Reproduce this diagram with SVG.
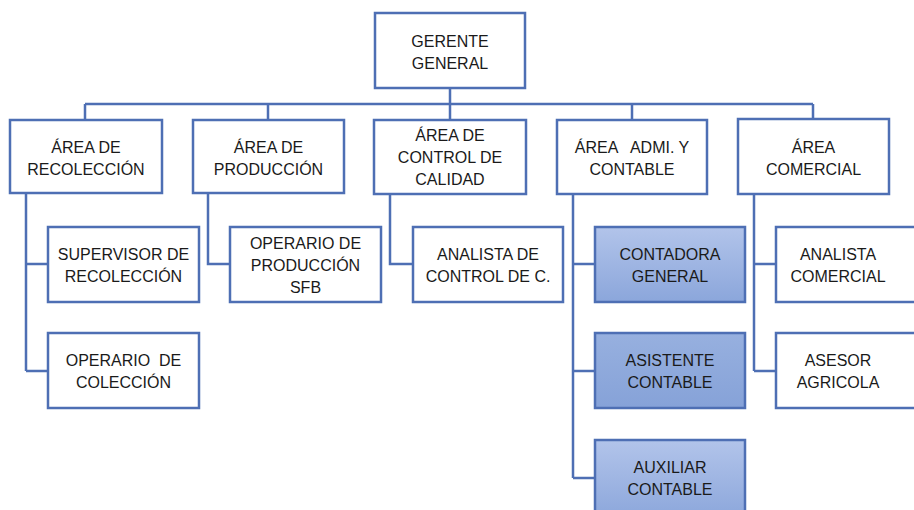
<svg xmlns="http://www.w3.org/2000/svg" width="914" height="510" viewBox="0 0 914 510">
<style>
.box{fill:#ffffff;stroke:#4e6fb4;stroke-width:2.5}
.blue1{fill:url(#g1);stroke:#4e6fb4;stroke-width:2.5}
.blue2{fill:url(#g2);stroke:#4e6fb4;stroke-width:2.5}
.con{fill:none;stroke:#4e6fb4;stroke-width:2.5}
text{font-family:"Liberation Sans",Arial,sans-serif;font-size:16px;fill:#1a1a1a;text-anchor:middle}
</style>
<defs>
<linearGradient id="g1" x1="0" y1="0" x2="0" y2="1">
<stop offset="0" stop-color="#b2c4ea"/>
<stop offset="1" stop-color="#8ba6db"/>
</linearGradient>
<linearGradient id="g2" x1="0" y1="0" x2="0" y2="1">
<stop offset="0" stop-color="#97b0df"/>
<stop offset="1" stop-color="#86a2d8"/>
</linearGradient>
</defs>
<g id="connectors">
<path class="con" d="M450 88V104M85 104H813M85 104V120M268 104V120M450 104V120M632 104V120M813 104V120"/>
<path class="con" d="M26 193V371M26 264H48M26 371H48"/>
<path class="con" d="M208 193V264H230"/>
<path class="con" d="M390 194V264H413"/>
<path class="con" d="M573 194V478M573 264H595M573 371H595M573 478H595"/>
<path class="con" d="M754 194V371M754 264H776M754 371H776"/>
</g>
<g id="gerente"><rect class="box" x="375" y="13" width="150" height="75"/><text x="450" y="47">GERENTE</text><text x="450" y="69">GENERAL</text></g>
<g id="area-recoleccion"><rect class="box" x="10" y="120" width="152" height="73"/><text x="86" y="153">ÁREA DE</text><text x="86" y="175">RECOLECCIÓN</text></g>
<g id="area-produccion"><rect class="box" x="193" y="120" width="151" height="73"/><text x="268.5" y="153">ÁREA DE</text><text x="268.5" y="175">PRODUCCIÓN</text></g>
<g id="area-calidad"><rect class="box" x="374" y="120" width="152" height="74"/><text x="450" y="141">ÁREA DE</text><text x="450" y="163">CONTROL DE</text><text x="450" y="185">CALIDAD</text></g>
<g id="area-admi"><rect class="box" x="557" y="120" width="150" height="74"/><text x="632" y="153" xml:space="preserve">ÁREA   ADMI. Y</text><text x="632" y="175">CONTABLE</text></g>
<g id="area-comercial"><rect class="box" x="738" y="119" width="151" height="75"/><text x="813.5" y="153">ÁREA</text><text x="813.5" y="175">COMERCIAL</text></g>
<g id="supervisor"><rect class="box" x="48" y="227" width="151" height="75"/><text x="123.5" y="260">SUPERVISOR DE</text><text x="123.5" y="282">RECOLECCIÓN</text></g>
<g id="operario-coleccion"><rect class="box" x="48" y="333" width="151" height="75"/><text x="123.5" y="366" xml:space="preserve">OPERARIO  DE</text><text x="123.5" y="388">COLECCIÓN</text></g>
<g id="operario-produccion"><rect class="box" x="230" y="227" width="151" height="75"/><text x="305.5" y="249">OPERARIO DE</text><text x="305.5" y="271">PRODUCCIÓN</text><text x="305.5" y="293">SFB</text></g>
<g id="analista-control"><rect class="box" x="413" y="227" width="150" height="75"/><text x="488" y="260">ANALISTA DE</text><text x="488" y="282">CONTROL DE C.</text></g>
<g id="contadora"><rect class="blue1" x="595" y="227" width="150" height="75"/><text x="670" y="260">CONTADORA</text><text x="670" y="282">GENERAL</text></g>
<g id="asistente"><rect class="blue2" x="595" y="333" width="150" height="75"/><text x="670" y="366">ASISTENTE</text><text x="670" y="388">CONTABLE</text></g>
<g id="auxiliar"><rect class="blue1" x="595" y="440" width="150" height="80"/><text x="670" y="473">AUXILIAR</text><text x="670" y="495">CONTABLE</text></g>
<g id="analista-comercial"><rect class="box" x="776" y="227" width="150" height="75"/><text x="838" y="260">ANALISTA</text><text x="838" y="282">COMERCIAL</text></g>
<g id="asesor"><rect class="box" x="776" y="333" width="150" height="75"/><text x="838" y="366">ASESOR</text><text x="838" y="388">AGRICOLA</text></g>
</svg>
